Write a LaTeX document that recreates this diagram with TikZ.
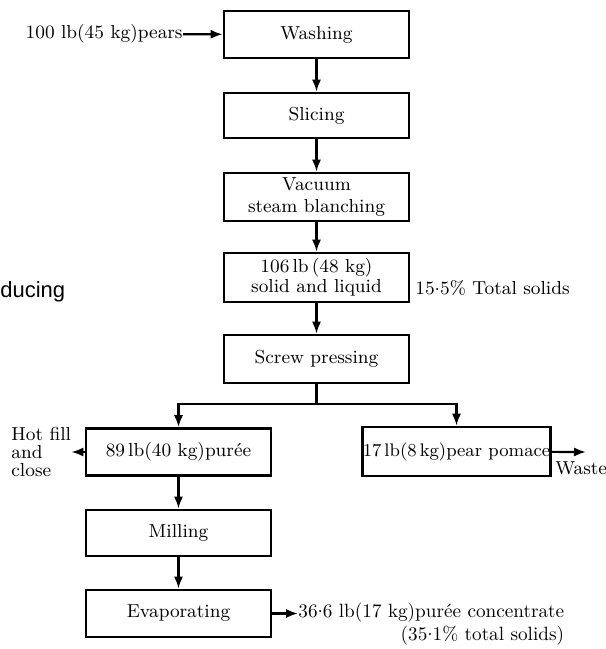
\documentclass[tikz,border=0pt]{standalone}
\usepackage{fontspec}
\newfontfamily\helv{Liberation Sans}
\usetikzlibrary{arrows.meta}
\newcommand{\ptdot}{\raisebox{0.55ex}{.}}

\begin{document}
\begin{tikzpicture}[
  x=0.5pt,y=-0.5pt,
  font=\fontsize{9.4}{11}\selectfont,
  stepbox/.style={draw,line width=1.4pt,minimum width=92.5pt,minimum height=23.5pt,align=center,inner sep=1pt},
  flow/.style={-{Latex[length=6pt,width=4.6pt]},line width=1.1pt},
  plain/.style={line width=1.1pt},
  label/.style={inner sep=0pt,align=left}
]
\useasboundingbox (0,0) rectangle (606,649);

% main column
\node[stepbox] (wash) at (316.5,34.5) {Washing};
\node[stepbox,minimum height=22.5pt] (slice) at (316.5,115.5) {Slicing};
\node[stepbox,minimum height=24pt] (blanch) at (316.5,197) {Vacuum\\steam blanching};
\node[stepbox,minimum height=24.5pt,font=\fontsize{9.4}{10}\selectfont] (solid) at (316.5,277.5) {106\,lb\,(48 kg)\\solid and liquid};
\node[stepbox,minimum height=24pt] (press) at (316.5,359) {Screw pressing};

% branches
\node[stepbox] (puree) at (178.5,452) {89\,lb(40 kg)purée};
\node[stepbox,minimum height=24.5pt,inner sep=0pt,font=\fontsize{9.1}{11}\selectfont] (pomace) at (456.5,451.5) {17\,lb(8\,kg)pear pomace};
\node[stepbox,minimum height=23pt] (mill) at (178.5,533) {Milling};
\node[stepbox] (evap) at (178.5,613.5) {Evaporating};

% texts
\node[label,anchor=east] (pears) at (183,34) {100 lb(45 kg)pears};
\node[label,anchor=west] (solids) at (415,288) {15\ptdot5\% Total solids};
\node[label,anchor=west,font=\fontsize{9.4}{8.8}\selectfont] (hot) at (11,452) {Hot fill\\and\\close};
\node[label,anchor=west] (waste) at (555,468) {Waste};
\coordinate (wasteend) at (586,452);
\node[label,anchor=west,align=right,font=\fontsize{9.6}{11.5}\selectfont] (conc) at (298,624) {36\ptdot6 lb(17 kg)purée concentrate\\(35\ptdot1\% total solids)};
\node[label,anchor=west,font=\helv\fontsize{11}{13}\selectfont] (cut) at (0,292) {ducing};
\coordinate (split) at (316.5,404);

% connectors
\draw[flow] (pears) -- (wash);
\draw[flow] (wash) -- (slice);
\draw[flow] (slice) -- (blanch);
\draw[flow] (blanch) -- (solid);
\draw[flow] (solid) -- (press);
\draw[plain] (press) -- (split);
\draw[flow] (split) -| (puree);
\draw[flow] (split) -| (pomace);
\draw[flow] (puree) -- (hot);
\draw[flow] (pomace) -- (wasteend);
\draw[flow] (puree) -- (mill);
\draw[flow] (mill) -- (evap);
\draw[flow] (evap.east) -- (evap.east -| conc.west);
\end{tikzpicture}
\end{document}
